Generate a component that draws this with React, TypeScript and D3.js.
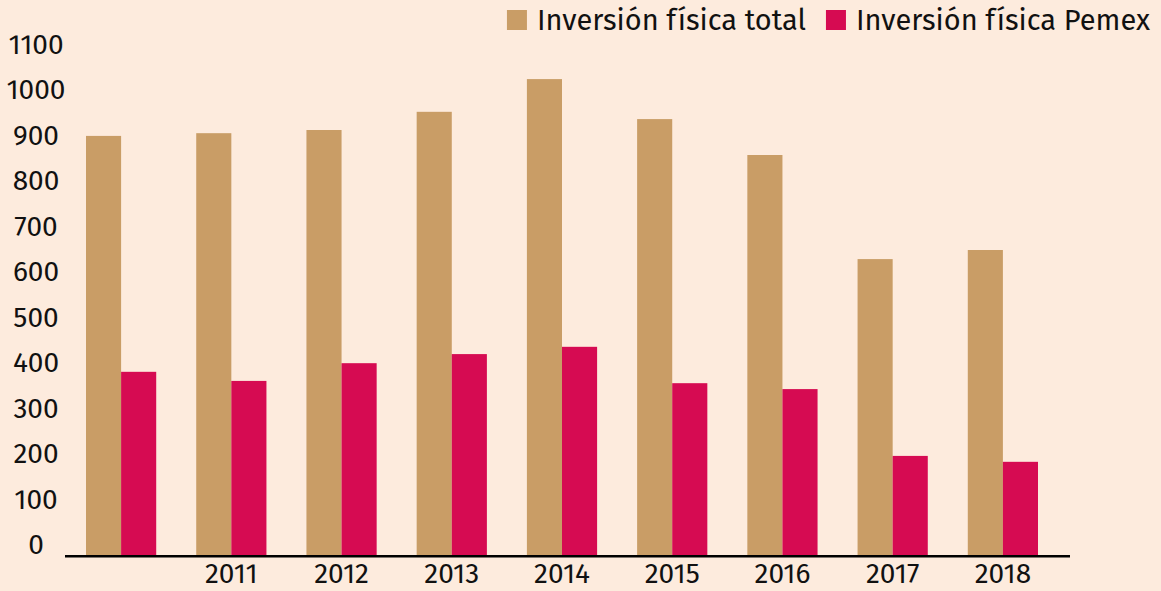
import React, { useEffect, useRef } from 'react';
import * as d3 from 'd3';

const years = ['2010', '2011', '2012', '2013', '2014', '2015', '2016', '2017', '2018'];
const tickLabels = ['', '2011', '2012', '2013', '2014', '2015', '2016', '2017', '2018'];
const totalValues = [922, 928, 935, 975, 1047, 959, 880, 651, 671];
const pemexValues = [403, 383, 422, 442, 458, 378, 365, 218, 205];
const yTicks = [0, 100, 200, 300, 400, 500, 600, 700, 800, 900, 1000, 1100];
const seriesNames = ['Inversión física total', 'Inversión física Pemex'];
const seriesColors = ['#C99D66', '#D60B52'];

const W = 1161;
const H = 591;
const FONT = "'Fira Sans', 'Noto Sans', sans-serif";

export default function App() {
  const ref = useRef<SVGSVGElement>(null);

  useEffect(() => {
    const svg = d3.select(ref.current as SVGSVGElement);
    svg.selectAll('*').remove();

    svg.append('rect').attr('width', W).attr('height', H).attr('fill', '#FDEBDD');

    const x = d3.scaleBand<string>().domain(years).range([86, 1038]).paddingInner(0.363).paddingOuter(0);
    const xs = d3.scaleBand<number>().domain([0, 1]).range([0, x.bandwidth()]).padding(0);
    const y = d3.scaleLinear().domain([0, 1100]).range([555, 55]);

    const series = [totalValues, pemexValues];

    const g = svg.append('g');
    series.forEach((vals, si) => {
      g.selectAll(`rect.s${si}`)
        .data(vals)
        .enter()
        .append('rect')
        .attr('class', `s${si}`)
        .attr('x', (_, i) => (x(years[i]) as number) + (xs(si) as number))
        .attr('width', xs.bandwidth())
        .attr('y', (d) => y(d))
        .attr('height', (d) => y(0) - y(d))
        .attr('fill', seriesColors[si]);
    });

    // axis line
    svg.append('line')
      .attr('x1', 65).attr('x2', 1070)
      .attr('y1', y(0) + 1.2).attr('y2', y(0) + 1.2)
      .attr('stroke', '#000').attr('stroke-width', 2.4);

    // y tick labels
    svg.selectAll('text.ytick')
      .data(yTicks)
      .enter()
      .append('text')
      .attr('class', 'ytick')
      .attr('x', 36)
      .attr('y', (d) => y(d) - 1)
      .attr('text-anchor', 'middle')
      .attr('font-family', FONT)
      .attr('font-size', 28)
      .attr('fill', '#111')
      .text((d) => String(d));

    // x tick labels
    svg.selectAll('text.xtick')
      .data(years)
      .enter()
      .append('text')
      .attr('class', 'xtick')
      .attr('x', (d) => (x(d) as number) + x.bandwidth() / 2)
      .attr('y', 583)
      .attr('text-anchor', 'middle')
      .attr('font-family', FONT)
      .attr('font-size', 28)
      .attr('fill', '#111')
      .text((_, i) => tickLabels[i]);

    // legend, right aligned
    let right = 1150;
    for (let i = seriesNames.length - 1; i >= 0; i--) {
      const t = svg.append('text')
        .attr('x', right)
        .attr('y', 30)
        .attr('text-anchor', 'end')
        .attr('font-family', FONT)
        .attr('font-size', 29)
        .attr('fill', '#111')
        .text(seriesNames[i]);
      const w = (t.node() as SVGTextElement).getComputedTextLength();
      const sx = right - w - 30;
      svg.append('rect')
        .attr('x', sx).attr('y', 10)
        .attr('width', 20).attr('height', 20)
        .attr('fill', seriesColors[i]);
      right = sx - 20;
    }
  }, []);

  return (
    <svg
      ref={ref}
      width={W}
      height={H}
      style={{ position: 'absolute', left: 0, top: 0, display: 'block' }}
    />
  );
}
